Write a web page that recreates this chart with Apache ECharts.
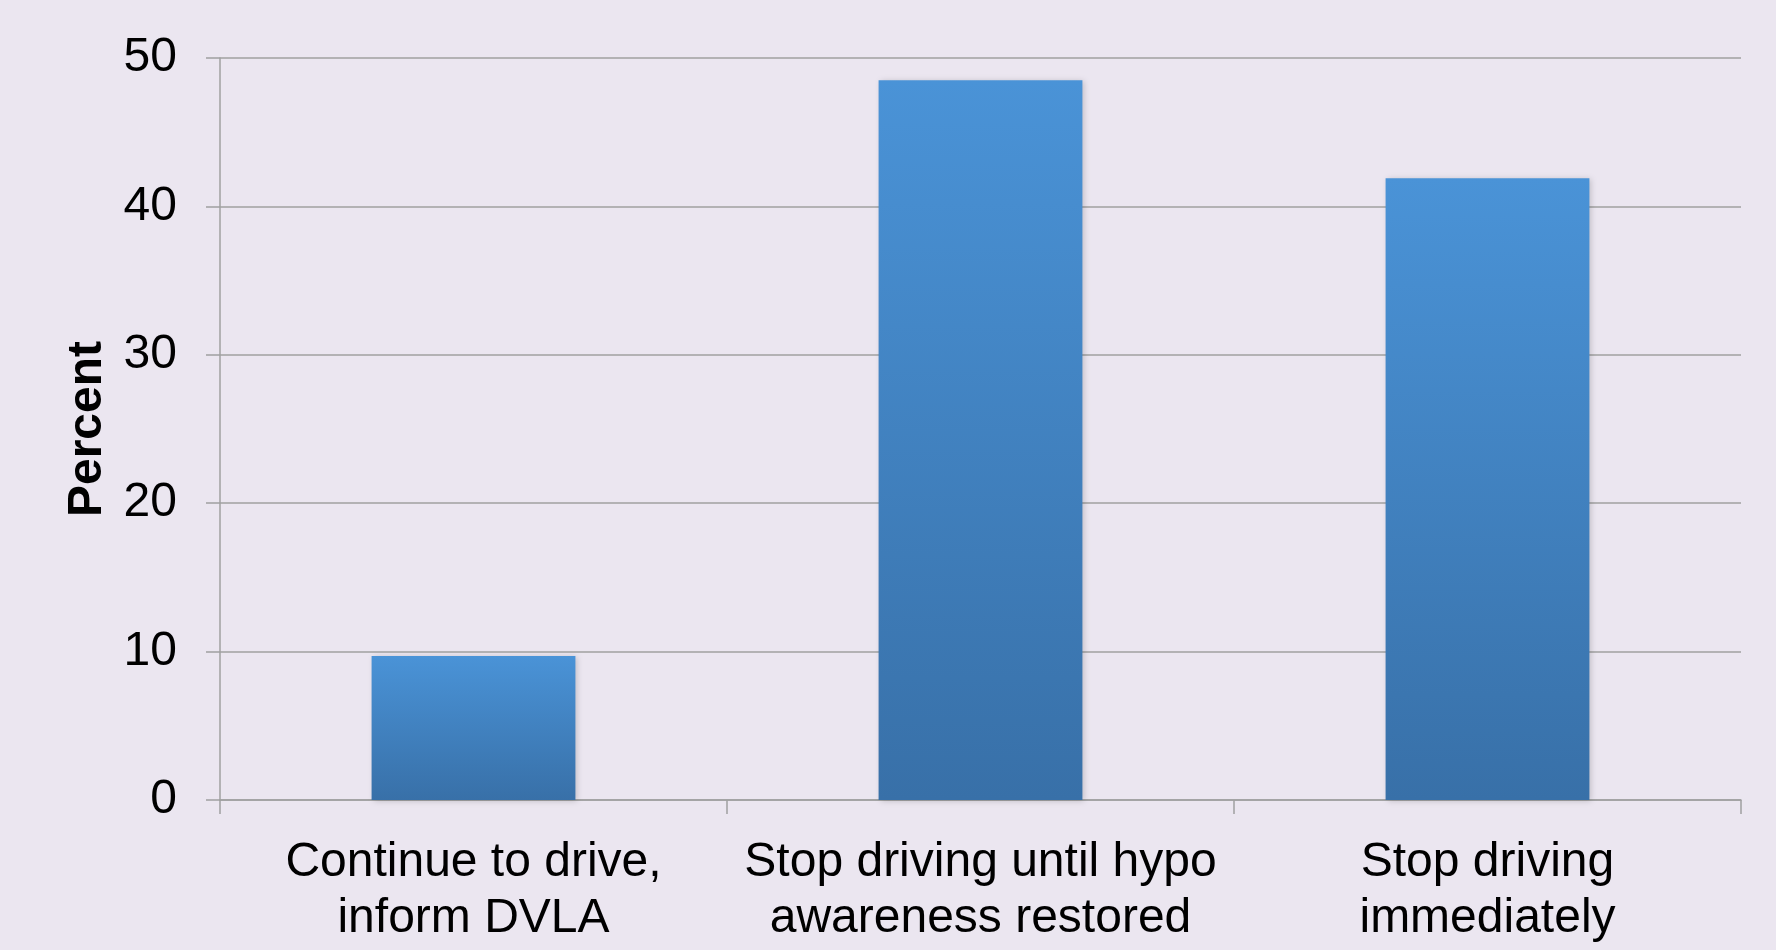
<!DOCTYPE html>
<html>
<head>
<meta charset="utf-8">
<script src="https://cdn.jsdelivr.net/npm/echarts@6/dist/echarts.min.js"></script>
<style>
  html, body { margin: 0; padding: 0; background: #ebe6f0; }
  #chart { width: 1776px; height: 950px; }
</style>
</head>
<body>
<div id="chart"></div>
<script>
// Advice given after hypo unawareness: share of respondents (%)
const categories = [
  'Continue to drive,\ninform DVLA',
  'Stop driving until hypo\nawareness restored',
  'Stop driving\nimmediately'
];
const percentValues = [9.7, 48.5, 41.9];
const yTicks = { min: 0, max: 50, interval: 10 };

const chart = echarts.init(document.getElementById('chart'));
const font = '"Liberation Sans", Arial, sans-serif';

chart.setOption({
  backgroundColor: '#ebe6f0',
  animation: false,
  grid: { left: 220, right: 35, top: 58, bottom: 150, containLabel: false },
  xAxis: {
    type: 'category',
    data: categories,
    axisLine: { show: true, lineStyle: { color: '#a0a0a0', width: 1.5 } },
    axisTick: { show: true, length: 14, alignWithLabel: false, lineStyle: { color: '#a0a0a0', width: 1.5 } },
    axisLabel: {
      color: '#000', fontFamily: font, fontSize: 48, lineHeight: 56, margin: 35, interval: 0
    }
  },
  yAxis: {
    type: 'value',
    min: yTicks.min, max: yTicks.max, interval: yTicks.interval,
    name: 'Percent',
    nameLocation: 'middle',
    nameGap: 108,
    nameRotate: 90,
    nameTextStyle: { color: '#000', fontFamily: font, fontSize: 48, fontWeight: 'bold' },
    axisLine: { show: true, lineStyle: { color: '#a0a0a0', width: 1.5 } },
    axisTick: { show: true, length: 14, lineStyle: { color: '#a0a0a0', width: 1.5 } },
    axisLabel: { color: '#000', fontFamily: font, fontSize: 48, margin: 43 },
    splitLine: { show: true, lineStyle: { color: '#a0a0a0', width: 1.5 } }
  },
  series: [{
    type: 'bar',
    data: percentValues,
    barWidth: '40.2%',
    itemStyle: {
      color: new echarts.graphic.LinearGradient(0, 0, 0, 1, [
        { offset: 0, color: '#4a93d7' },
        { offset: 1, color: '#3870a8' }
      ]),
      shadowColor: 'rgba(0,0,0,0.18)',
      shadowBlur: 6,
      shadowOffsetX: 2,
      shadowOffsetY: 1
    }
  }]
});
</script>
</body>
</html>
